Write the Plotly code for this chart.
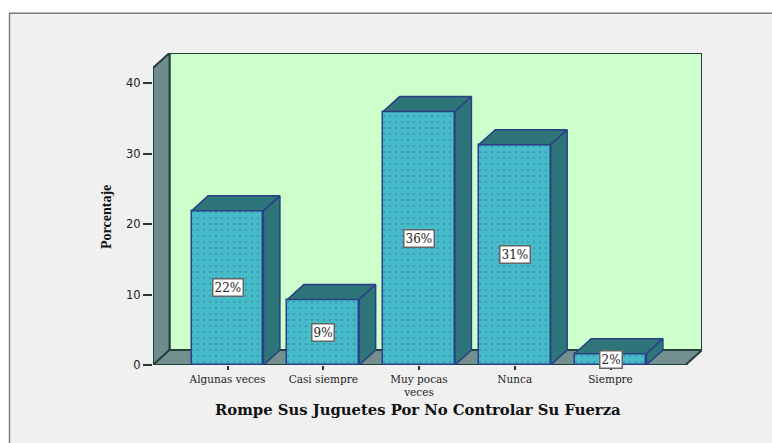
import plotly.graph_objects as go

categories = ["Algunas veces", "Casi siempre", "Muy pocas<br>veces", "Nunca", "Siempre"]
values = [21.9, 9.3, 36.0, 31.3, 1.6]
labels = ["22%", "9%", "36%", "31%", "2%"]
y_ticks = [0, 10, 20, 30, 40]
x_title = "Rompe Sus Juguetes Por No Controlar Su Fuerza"
y_title = "Porcentaje"

W, H = 772, 443
L, R, T, B = 153, 702, 52.5, 365.5      # plot area in pixels
PX_PER_CAT = 95.75
PX_PER_UNIT = 7.0625
X0_PX = 227.5                           # pixel of first category
BAR_W = 0.75
DX = 16.5 / PX_PER_CAT                  # depth of the 3D effect, in axis units
DY = 15 / PX_PER_UNIT
Y_TOP = 42.2

x_min = (L - X0_PX) / PX_PER_CAT
x_max = (R - X0_PX) / PX_PER_CAT
y_max = (B - T) / PX_PER_UNIT
xs = list(range(len(categories)))

WALL_LINE = "#24403c"
BAR_LINE = "#2b3f85"
FACE = "#2d7578"


def poly(pts):
    return "M " + " L ".join(f"{x},{y}" for x, y in pts) + " Z"


def px_x(p):
    return (p - L) / (R - L)


def px_y(p):
    return (B - p) / (B - T)


shapes = [
    # outer panel: framed on top and left, runs off the right and bottom edges
    dict(type="rect", xref="paper", yref="paper", layer="below",
         x0=px_x(9.5), x1=px_x(780), y0=px_y(450), y1=px_y(12.5),
         fillcolor="#f0f0f0", line=dict(color="#7d7d7d", width=1.5)),
    # back wall
    dict(type="path", xref="x", yref="y", layer="below",
         path=poly([(x_min + DX, DY), (x_max, DY), (x_max, Y_TOP + DY), (x_min + DX, Y_TOP + DY)]),
         fillcolor="#ccffcc", line=dict(color=WALL_LINE, width=2)),
    # left wall
    dict(type="path", xref="x", yref="y", layer="below",
         path=poly([(x_min, 0), (x_min + DX, DY), (x_min + DX, Y_TOP + DY), (x_min, Y_TOP)]),
         fillcolor="#6f8c8c", line=dict(color=WALL_LINE, width=2)),
    # floor
    dict(type="path", xref="x", yref="y", layer="below",
         path=poly([(x_min, 0), (x_max - DX, 0), (x_max, DY), (x_min + DX, DY)]),
         fillcolor="#738f8f", line=dict(color=WALL_LINE, width=2)),
]

fig = go.Figure()

fig.add_trace(go.Bar(
    x=xs, y=values, width=BAR_W, showlegend=False, hoverinfo="skip",
    marker=dict(color="#45bcc8", line=dict(color=BAR_LINE, width=1.5),
                pattern=dict(shape=".", size=6, solidity=0.1, fgcolor="#35609f", bgcolor="#45bcc8")),
))

for x, v in zip(xs, values):
    xl, xr = x - BAR_W / 2, x + BAR_W / 2
    fig.add_trace(go.Scatter(
        x=[xl, xr, xr + DX, xl + DX, xl], y=[v, v, v + DY, v + DY, v],
        mode="lines", fill="toself", fillcolor=FACE, showlegend=False, hoverinfo="skip",
        line=dict(color=BAR_LINE, width=1.5)))
    fig.add_trace(go.Scatter(
        x=[xr, xr + DX, xr + DX, xr, xr], y=[0, DY, v + DY, v, 0],
        mode="lines", fill="toself", fillcolor=FACE, showlegend=False, hoverinfo="skip",
        line=dict(color=BAR_LINE, width=1.5)))

annotations = [
    dict(x=x, y=v / 2, text=t, showarrow=False, xref="x", yref="y",
         font=dict(family="DejaVu Serif", size=12, color="#222222"),
         bgcolor="white", bordercolor="#666666", borderwidth=1.5, borderpad=1)
    for x, v, t in zip(xs, values, labels)
]
annotations.append(dict(
    x=px_x(418), y=px_y(410), xref="paper", yref="paper", showarrow=False,
    text=f"<b>{x_title}</b>", xanchor="center", yanchor="middle",
    font=dict(family="DejaVu Serif", size=14.8, color="#111111")))
annotations.append(dict(
    x=px_x(107), y=px_y(217), xref="paper", yref="paper", showarrow=False,
    text=f"<b>{y_title}</b>", textangle=-90, xanchor="center", yanchor="middle",
    font=dict(family="Liberation Serif", size=14, color="#111111")))

fig.update_layout(
    width=W, height=H, autosize=False,
    margin=dict(l=L, r=W - R, t=T, b=H - B, pad=0),
    paper_bgcolor="white", plot_bgcolor="rgba(0,0,0,0)",
    shapes=shapes, annotations=annotations, bargap=0,
    xaxis=dict(range=[x_min, x_max], tickmode="array", tickvals=xs, ticktext=categories,
               ticks="outside", ticklen=4, tickwidth=1.5, tickcolor="#333333",
               tickfont=dict(family="DejaVu Serif", size=10.5, color="#222222"),
               showgrid=False, zeroline=False, showline=False),
    yaxis=dict(range=[0, y_max], tickmode="array", tickvals=y_ticks,
               ticks="outside", ticklen=9, tickwidth=1.5, tickcolor="#333333",
               tickfont=dict(family="DejaVu Sans", size=11.5, color="#222222"),
               showgrid=False, zeroline=False, showline=False),
)

fig.write_html("out.html", config=dict(displayModeBar=False),
               post_script="document.body.style.margin='0';document.body.style.overflow='hidden';")
